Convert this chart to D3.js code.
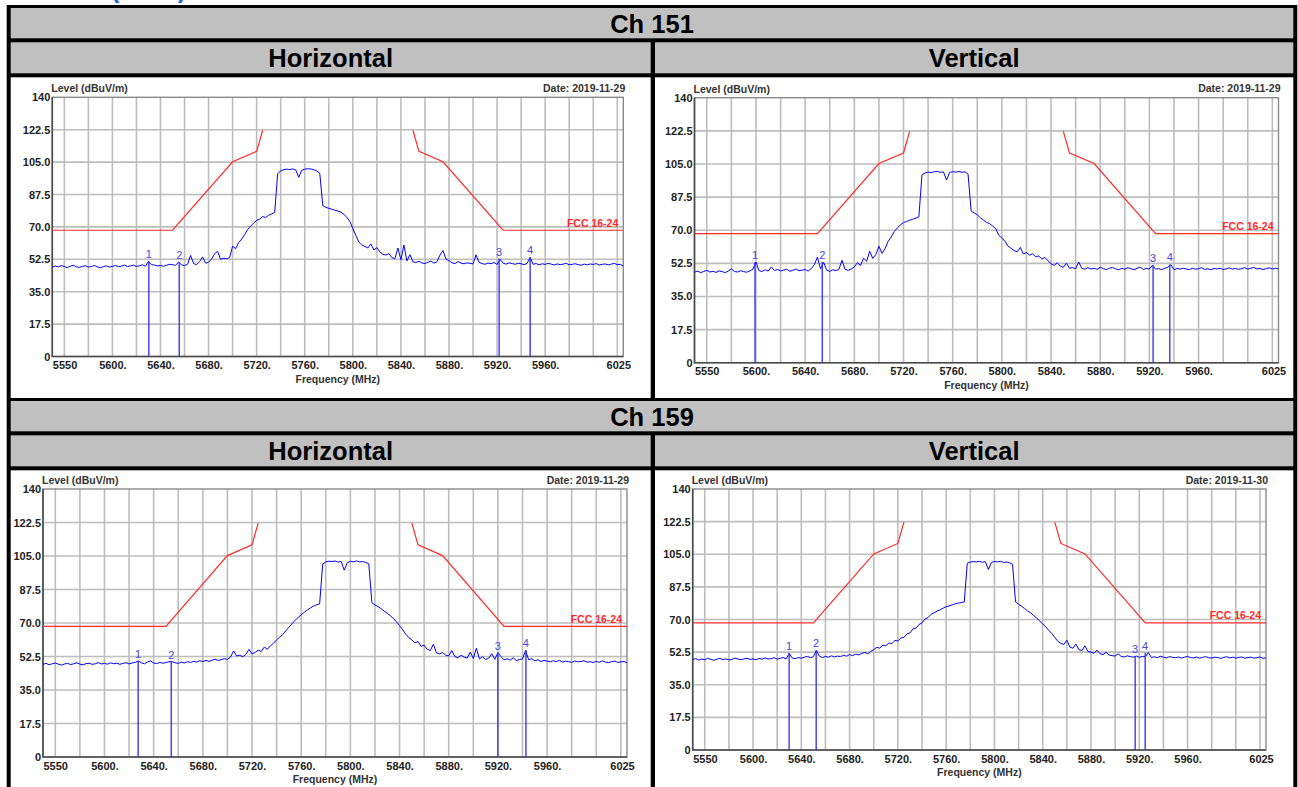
<!DOCTYPE html>
<html>
<head>
<meta charset="utf-8">
<title>Ch 151 / Ch 159 band edge plots</title>
<script src="https://cdn.jsdelivr.net/npm/d3@7"></script>
<style>
  html, body { margin: 0; padding: 0; background: #fff; }
  svg { display: block; }
  text { font-family: "Liberation Sans", Arial, Helvetica, sans-serif; }
</style>
</head>
<body>
<svg id="page" width="1298" height="787"></svg>
<script>
// ---------- sweep data (dBuV/m), one reading every 2.5 MHz from 5550 MHz ----------
const sweepStartMHz = 5550;
const sweepStepMHz = 2.5;

const ch151Horizontal = [
  48.2, 48.9, 48.4, 49.1, 48.6, 48.0, 48.8, 49.3, 48.5, 48.1, 48.7, 49.0, 48.3, 48.6, 49.2, 48.4, 47.9, 48.6, 48.9, 48.3,
  48.7, 49.1, 48.5, 48.8, 49.4, 48.6, 48.9, 49.3, 48.7, 49.0, 49.5, 48.8, 51.3, 49.6, 49.4, 48.9, 49.2, 48.7, 49.3, 49.8,
  49.6, 49.2, 51.0, 49.5, 49.1, 49.8, 54.6, 50.2, 49.6, 51.2, 53.8, 50.4, 50.9, 52.6, 55.4, 56.8, 52.5, 53.1, 52.8, 53.4,
  59.6, 58.2, 61.5, 63.4, 65.8, 68.6, 70.4, 72.1, 73.5, 74.2, 75.6, 75.1, 76.3, 77.0, 77.8, 98.8, 100.2, 100.9, 101.2, 101.0,
  101.3, 100.8, 96.8, 100.6, 101.2, 101.4, 101.3, 100.9, 100.2, 99.0, 81.5, 80.6, 80.0, 79.6, 79.0, 78.6, 78.0, 76.8, 75.2, 73.0,
  69.2, 65.4, 61.8, 60.2, 59.5, 58.6, 60.8, 57.5, 58.8, 56.4, 55.2, 54.8, 55.6, 53.4, 52.8, 58.6, 52.2, 60.2, 51.6, 55.0,
  51.2, 50.8, 51.4, 50.5, 50.2, 50.9, 51.6, 50.4, 51.2, 54.8, 57.2, 52.6, 51.8, 50.6, 50.2, 51.3, 50.4, 50.1, 50.6, 50.3,
  50.0, 54.9, 50.8, 50.2, 49.8, 50.5, 50.1, 50.8, 49.7, 52.6, 50.4, 49.9, 50.6, 50.2, 49.8, 50.4, 50.1, 49.6, 50.3, 53.5,
  49.8, 50.2, 49.5, 50.1, 49.7, 50.4, 49.9, 49.4, 50.0, 49.6, 49.9, 50.3, 49.5, 49.8, 50.1, 49.6, 49.3, 49.9, 49.5, 50.0,
  49.7, 50.2, 49.4, 49.8, 50.0, 49.5, 49.9, 50.3, 49.6, 49.8, 48.9
];

const ch151Vertical = [
  47.8, 48.4, 47.6, 48.2, 48.8, 47.9, 48.3, 47.7, 48.5, 48.1, 47.6, 48.4, 49.6, 48.2, 47.9, 48.6, 48.1, 47.8, 48.5, 49.4,
  53.2, 48.6, 48.2, 49.1, 48.4, 50.6, 48.7, 49.3, 48.5, 48.9, 49.4, 48.3, 48.8, 49.5, 48.6, 48.9, 49.2, 48.4, 49.7, 51.8,
  55.8, 49.6, 53.0, 48.9, 48.2, 49.1, 48.6, 49.4, 54.1, 49.3, 48.8, 49.5, 50.6, 52.8, 51.4, 55.2, 53.6, 58.9, 55.1, 57.2,
  61.5, 57.8, 60.2, 64.1, 66.4, 69.3, 71.2, 72.8, 74.0, 74.6, 75.3, 75.8, 76.4, 77.1, 99.2, 100.3, 100.7, 100.4, 100.9, 101.0,
  100.6, 100.8, 96.5, 100.5, 100.9, 100.7, 101.0, 100.6, 100.8, 99.6, 80.2, 79.1, 78.2, 76.6, 75.4, 74.1, 73.5, 72.2, 70.8, 67.4,
  65.8, 64.2, 61.6, 60.4, 59.2, 58.6, 60.9, 57.4, 58.2, 56.8, 57.5, 55.9, 56.4, 54.8, 55.6, 53.9, 52.2, 51.4, 52.8, 51.0,
  50.4, 52.6, 49.9, 50.3, 49.6, 53.2, 49.8, 49.4, 50.2, 49.5, 49.9, 49.3, 50.4, 49.7, 49.2, 49.9, 50.3, 49.6, 49.1, 49.8,
  49.4, 50.2, 49.6, 49.1, 49.9, 50.5, 49.3, 49.8, 49.5, 51.5, 49.4, 49.7, 49.2, 49.9, 50.4, 51.8, 49.1, 49.8, 49.4, 49.9,
  49.5, 49.2, 49.9, 49.4, 49.7, 50.2, 49.3, 49.6, 49.1, 49.8, 49.5, 49.9, 49.2, 49.6, 50.1, 49.4, 49.8, 49.3, 49.7, 50.2,
  49.4, 49.9, 50.3, 49.5, 49.8, 49.2, 49.7, 50.1, 49.5, 49.9, 49.6
];

const ch159Horizontal = [
  48.4, 48.9, 48.2, 48.7, 49.1, 48.5, 48.0, 48.6, 48.9, 48.3, 48.7, 49.2, 48.5, 48.1, 48.8, 49.0, 48.4, 48.7, 49.3, 48.6,
  48.9, 48.5, 49.2, 48.7, 49.0, 48.4, 48.9, 49.3, 48.6, 49.1, 49.4, 50.2, 49.2, 48.7, 49.6, 50.2, 49.1, 48.8, 49.4, 49.0,
  49.3, 49.8, 49.8, 49.2, 48.9, 49.6, 49.1, 49.8, 49.4, 50.0, 49.6, 50.3, 49.8, 50.5, 49.9, 50.6, 51.1, 50.4, 50.9, 51.3,
  51.0, 52.2, 55.4, 52.8, 53.1, 52.4, 53.6, 56.2, 53.9, 54.6, 55.8, 55.1, 57.4, 56.3, 58.1, 59.4, 61.2, 62.6, 64.0, 65.9,
  67.8, 69.6, 71.4, 72.9, 74.3, 75.6, 76.8, 77.9, 78.8, 79.5, 80.0, 100.8, 101.9, 102.3, 102.1, 102.4, 101.8, 102.2, 97.6, 101.5,
  102.2, 102.0, 102.4, 101.9, 102.1, 101.7, 100.9, 80.6, 79.4, 78.6, 77.5, 76.2, 75.1, 73.8, 72.4, 70.6, 68.7, 66.5, 64.2, 62.4,
  61.2, 59.6, 60.4, 57.8, 58.4, 56.2, 55.6, 58.9, 54.4, 53.8, 54.6, 53.2, 52.8, 55.6, 52.4, 51.9, 53.1, 52.2, 51.6, 54.8,
  51.5, 56.8, 51.2, 52.4, 50.9, 51.6, 53.9, 51.0, 54.6, 52.4, 50.8, 51.3, 50.6, 51.8, 50.4, 50.9, 51.2, 55.6, 50.8, 51.4,
  50.2, 50.8, 49.9, 50.4, 50.1, 49.7, 50.3, 49.8, 50.5, 49.6, 50.1, 49.8, 49.4, 50.2, 49.7, 49.9, 50.3, 49.5, 49.8, 49.4,
  49.9, 49.5, 50.2, 49.6, 49.3, 49.8, 50.1, 49.4, 49.7, 49.9, 49.2
];

const ch159Vertical = [
  48.5, 49.0, 48.3, 48.8, 48.4, 49.2, 48.6, 48.1, 48.7, 49.1, 48.5, 48.9, 48.3, 48.6, 49.3, 48.8, 48.4, 48.9, 49.2, 48.6,
  48.9, 48.4, 49.1, 48.7, 49.4, 48.8, 49.0, 49.5, 48.7, 49.2, 49.6, 48.9, 51.8, 49.3, 49.0, 49.6, 49.2, 49.8, 50.2, 49.5,
  50.1, 53.4, 50.3, 49.6, 50.2, 49.8, 50.5, 49.9, 50.4, 50.1, 50.8, 50.3, 51.2, 50.6, 51.4, 51.0, 51.8, 52.3, 51.6, 52.9,
  53.8, 55.1, 54.6, 56.2, 55.9, 57.4, 57.0, 58.8, 58.5, 60.1, 60.4, 62.3, 62.8, 65.0, 65.4, 67.3, 68.2, 70.3, 71.0, 72.8,
  73.6, 74.5, 75.2, 76.1, 76.8, 77.3, 77.9, 78.4, 78.8, 79.1, 79.4, 100.2, 100.8, 101.1, 100.9, 101.2, 100.7, 101.0, 96.8, 100.6,
  101.1, 100.9, 101.2, 100.6, 100.9, 100.4, 99.6, 79.4, 78.2, 77.1, 75.9, 74.5, 73.6, 72.1, 70.8, 69.2, 67.6, 66.1, 64.2, 62.5,
  60.4, 58.3, 57.2, 56.6, 58.9, 55.2, 54.6, 56.8, 53.8, 53.4, 55.9, 52.8, 52.5, 51.9, 53.6, 51.6, 51.2, 52.4, 50.9, 50.6,
  50.4, 51.6, 50.2, 49.9, 50.5, 50.1, 49.8, 50.4, 49.7, 50.2, 49.9, 52.3, 49.6, 50.0, 49.5, 50.3, 49.8, 49.4, 50.1, 49.7,
  49.5, 49.9, 49.3, 49.8, 50.2, 49.6, 49.4, 49.9, 49.2, 49.7, 50.1, 49.5, 49.3, 49.8, 49.6, 49.1, 49.7, 50.0, 49.4, 49.8,
  49.3, 49.7, 49.9, 49.2, 49.6, 49.8, 49.3, 49.5, 49.9, 49.2, 49.4
];

// ---------- markers: [frequency MHz, level dBuV/m] ----------
const markerNames = ["1", "2", "3", "4"];
const markers151H = [[5630.3, 51.5], [5655.6, 51.0], [5921.7, 52.8], [5947.5, 53.8]];
const markers151V = [[5599.2, 53.2], [5653.9, 53.2], [5923.0, 51.6], [5936.6, 51.9]];
const markers159H = [[5627.4, 50.2], [5654.3, 49.6], [5920.0, 54.3], [5942.8, 55.9]];
const markers159V = [[5629.9, 52.0], [5652.3, 53.6], [5916.6, 50.4], [5924.9, 52.0]];

// ---------- FCC 16-24 emission mask, lower and upper band edge ----------
const fccLowerFreq  = [5550, 5650, 5700, 5720, 5725];
const fccLowerLevel = [68.2, 68.2, 105.2, 110.8, 122.2];
const fccUpperFreq  = [5850, 5855, 5875, 5925, 6025];
const fccUpperLevel = [122.2, 110.8, 105.2, 68.2, 68.2];
const limitName = "FCC 16-24";

// ---------- axes ----------
const freqTicks = [5550, 5600, 5640, 5680, 5720, 5760, 5800, 5840, 5880, 5920, 5960, 6025];
const freqTickLabels = ["5550", "5600.", "5640.", "5680.", "5720.", "5760.", "5800.", "5840.", "5880.", "5920.", "5960.", "6025"];
const freqGrid = [5560, 5580, 5600, 5620, 5640, 5660, 5680, 5700, 5720, 5740, 5760, 5780, 5800,
                  5820, 5840, 5860, 5880, 5900, 5920, 5940, 5960, 5980, 6000, 6020];
const levelTicks = [0, 17.5, 35, 52.5, 70, 87.5, 105, 122.5, 140];
const levelTickLabels = ["0", "17.5", "35.0", "52.5", "70.0", "87.5", "105.0", "122.5", "140"];

const sectionTitles = ["Ch 151", "Ch 159"];
const polarisations = ["Horizontal", "Vertical"];
const testDates = ["2019-11-29", "2019-11-29", "2019-11-29", "2019-11-30"];

// ---------- page layout ----------
const svg = d3.select("#page");
const GRAY = "#c0c0c0";

// table frame: black ground, cells laid over it
svg.append("rect").attr("x", 6.7).attr("y", 5).attr("width", 1297.3 - 6.7).attr("height", 800).attr("fill", "#000");

// heading above the table, running off the top of the page
svg.append("text").attr("x", 111).attr("y", -2.5)
  .attr("font-size", 25).attr("font-weight", "bold").attr("fill", "#1f5fe0")
  .text("(Peak)");

const colL = [10.7, 650.7], colR = [655, 1293.3];
const sectionOffset = [0, 393];
sectionTitles.forEach((title, s) => {
  const o = sectionOffset[s];
  svg.append("rect").attr("x", 10.7).attr("y", 8 + o).attr("width", 1293.3 - 10.7).attr("height", 30.3).attr("fill", GRAY);
  svg.append("text").attr("x", 652).attr("y", 24 + o).attr("text-anchor", "middle").attr("dominant-baseline", "central")
    .attr("font-size", 25.5).attr("font-weight", "bold").attr("fill", "#000").text(title);
  polarisations.forEach((p, c) => {
    const x0 = c === 0 ? colL[0] : colR[0];
    const x1 = c === 0 ? colL[1] : colR[1];
    svg.append("rect").attr("x", x0).attr("y", 42.3 + o).attr("width", x1 - x0).attr("height", 31).attr("fill", GRAY);
    svg.append("text").attr("x", (x0 + x1) / 2).attr("y", 58 + o).attr("text-anchor", "middle").attr("dominant-baseline", "central")
      .attr("font-size", 25.5).attr("font-weight", "bold").attr("fill", "#000").text(p);
    const cellBottom = s === 0 ? 398 : 800;
    svg.append("rect").attr("x", x0).attr("y", 77.3 + o).attr("width", x1 - x0).attr("height", cellBottom - 77.3 - o).attr("fill", "#fff");
  });
});

// ---------- chart panels ----------
const panels = [
  { id: "p151h", box: { l: 52.3, r: 623.3, t: 97.3, b: 356.5 }, trace: ch151Horizontal, markers: markers151H, date: testDates[0] },
  { id: "p151v", box: { l: 694.5, r: 1278.5, t: 97.7, b: 362.7 }, trace: ch151Vertical, markers: markers151V, date: testDates[1] },
  { id: "p159h", box: { l: 43, r: 627, t: 489, b: 757 }, trace: ch159Horizontal, markers: markers159H, date: testDates[2] },
  { id: "p159v", box: { l: 692.7, r: 1266, t: 489, b: 750 }, trace: ch159Vertical, markers: markers159V, date: testDates[3] }
];

const TEXT = "#222";

panels.forEach(pn => {
  const b = pn.box;
  const x = d3.scaleLinear().domain([5550, 6025]).range([b.l, b.r]);
  const y = d3.scaleLinear().domain([0, 140]).range([b.b, b.t]);
  const g = svg.append("g").attr("id", pn.id);

  g.append("clipPath").attr("id", pn.id + "-clip")
    .append("rect").attr("x", b.l).attr("y", b.t).attr("width", b.r - b.l).attr("height", b.b - b.t);

  // grid
  g.append("g").selectAll("line").data(freqGrid).join("line")
    .attr("x1", d => x(d)).attr("x2", d => x(d)).attr("y1", b.t).attr("y2", b.b)
    .attr("stroke", "#bdbdbd").attr("stroke-width", 1.6);
  g.append("g").selectAll("line").data(levelTicks.slice(1, -1)).join("line")
    .attr("x1", b.l).attr("x2", b.r).attr("y1", d => y(d)).attr("y2", d => y(d))
    .attr("stroke", "#bdbdbd").attr("stroke-width", 1.6);

  // frame
  g.append("rect").attr("x", b.l).attr("y", b.t).attr("width", b.r - b.l).attr("height", b.b - b.t)
    .attr("fill", "none").attr("stroke", "#8a8a8a").attr("stroke-width", 1.4);
  g.append("path").attr("d", `M${b.l},${b.t}V${b.b}H${b.r}`)
    .attr("fill", "none").attr("stroke", "#4a4a4a").attr("stroke-width", 1.6);

  // axes
  const xAxis = d3.axisBottom(x).tickValues(freqTicks).tickFormat((d, i) => freqTickLabels[i]).tickSize(0).tickPadding(5);
  const gx = g.append("g").attr("transform", `translate(0,${b.b})`).call(xAxis);
  gx.select(".domain").remove();
  gx.selectAll("text").attr("font-size", 11).attr("font-weight", "bold").attr("fill", TEXT)
    .attr("font-family", "Liberation Sans, Arial, sans-serif");
  gx.selectAll(".tick").filter((d, i) => i === 0).select("text").attr("text-anchor", "start");
  gx.selectAll(".tick").filter((d, i) => i === freqTicks.length - 1).select("text").attr("dx", -5);

  const yAxis = d3.axisLeft(y).tickValues(levelTicks).tickFormat((d, i) => levelTickLabels[i]).tickSize(0).tickPadding(2);
  const gy = g.append("g").attr("transform", `translate(${b.l},0)`).call(yAxis);
  gy.select(".domain").remove();
  gy.selectAll("text").attr("font-size", 11).attr("font-weight", "bold").attr("fill", TEXT)
    .attr("font-family", "Liberation Sans, Arial, sans-serif");

  // titles
  g.append("text").attr("x", b.l - 1).attr("y", b.t - 5).attr("font-size", 10.5).attr("font-weight", "bold")
    .attr("fill", "#333").text("Level (dBuV/m)");
  g.append("text").attr("x", b.r + 2).attr("y", b.t - 5.5).attr("text-anchor", "end").attr("font-size", 10.5)
    .attr("font-weight", "bold").attr("fill", "#333").text("Date: " + pn.date);
  g.append("text").attr("x", (b.l + b.r) / 2).attr("y", b.b + 26).attr("text-anchor", "middle").attr("font-size", 10.5)
    .attr("font-weight", "bold").attr("fill", "#333").text("Frequency (MHz)");

  const plot = g.append("g").attr("clip-path", `url(#${pn.id}-clip)`);

  // emission mask
  const maskLine = d3.line().x(d => x(d[0])).y(d => y(d[1]));
  [[fccLowerFreq, fccLowerLevel], [fccUpperFreq, fccUpperLevel]].forEach(([fs, ls]) => {
    plot.append("path").attr("d", maskLine(fs.map((f, i) => [f, ls[i]])))
      .attr("fill", "none").attr("stroke", "#ff2a2a").attr("stroke-width", 1.2);
  });
  g.append("text").attr("x", b.r - 5).attr("y", y(fccUpperLevel[fccUpperLevel.length - 1]) - 3.5)
    .attr("text-anchor", "end").attr("font-size", 10.5).attr("font-weight", "bold").attr("fill", "#ff2a2a")
    .text(limitName);

  // measured trace
  const traceLine = d3.line().x((d, i) => x(sweepStartMHz + i * sweepStepMHz)).y(d => y(d));
  plot.append("path").attr("d", traceLine(pn.trace))
    .attr("fill", "none").attr("stroke", "#0000ff").attr("stroke-width", 1).attr("stroke-linejoin", "round");

  // markers
  plot.selectAll("line.marker").data(pn.markers).join("line").attr("class", "marker")
    .attr("x1", d => x(d[0])).attr("x2", d => x(d[0])).attr("y1", d => y(d[1])).attr("y2", y(0))
    .attr("stroke", "#2a2aff").attr("stroke-width", 1.3);
  g.selectAll("text.marker").data(pn.markers).join("text").attr("class", "marker")
    .attr("x", d => x(d[0])).attr("y", d => y(d[1]) - 7).attr("text-anchor", "middle").attr("dominant-baseline", "central")
    .attr("font-size", 11).attr("fill", "#4646e0").text((d, i) => markerNames[i]);
});
</script>
</body>
</html>
